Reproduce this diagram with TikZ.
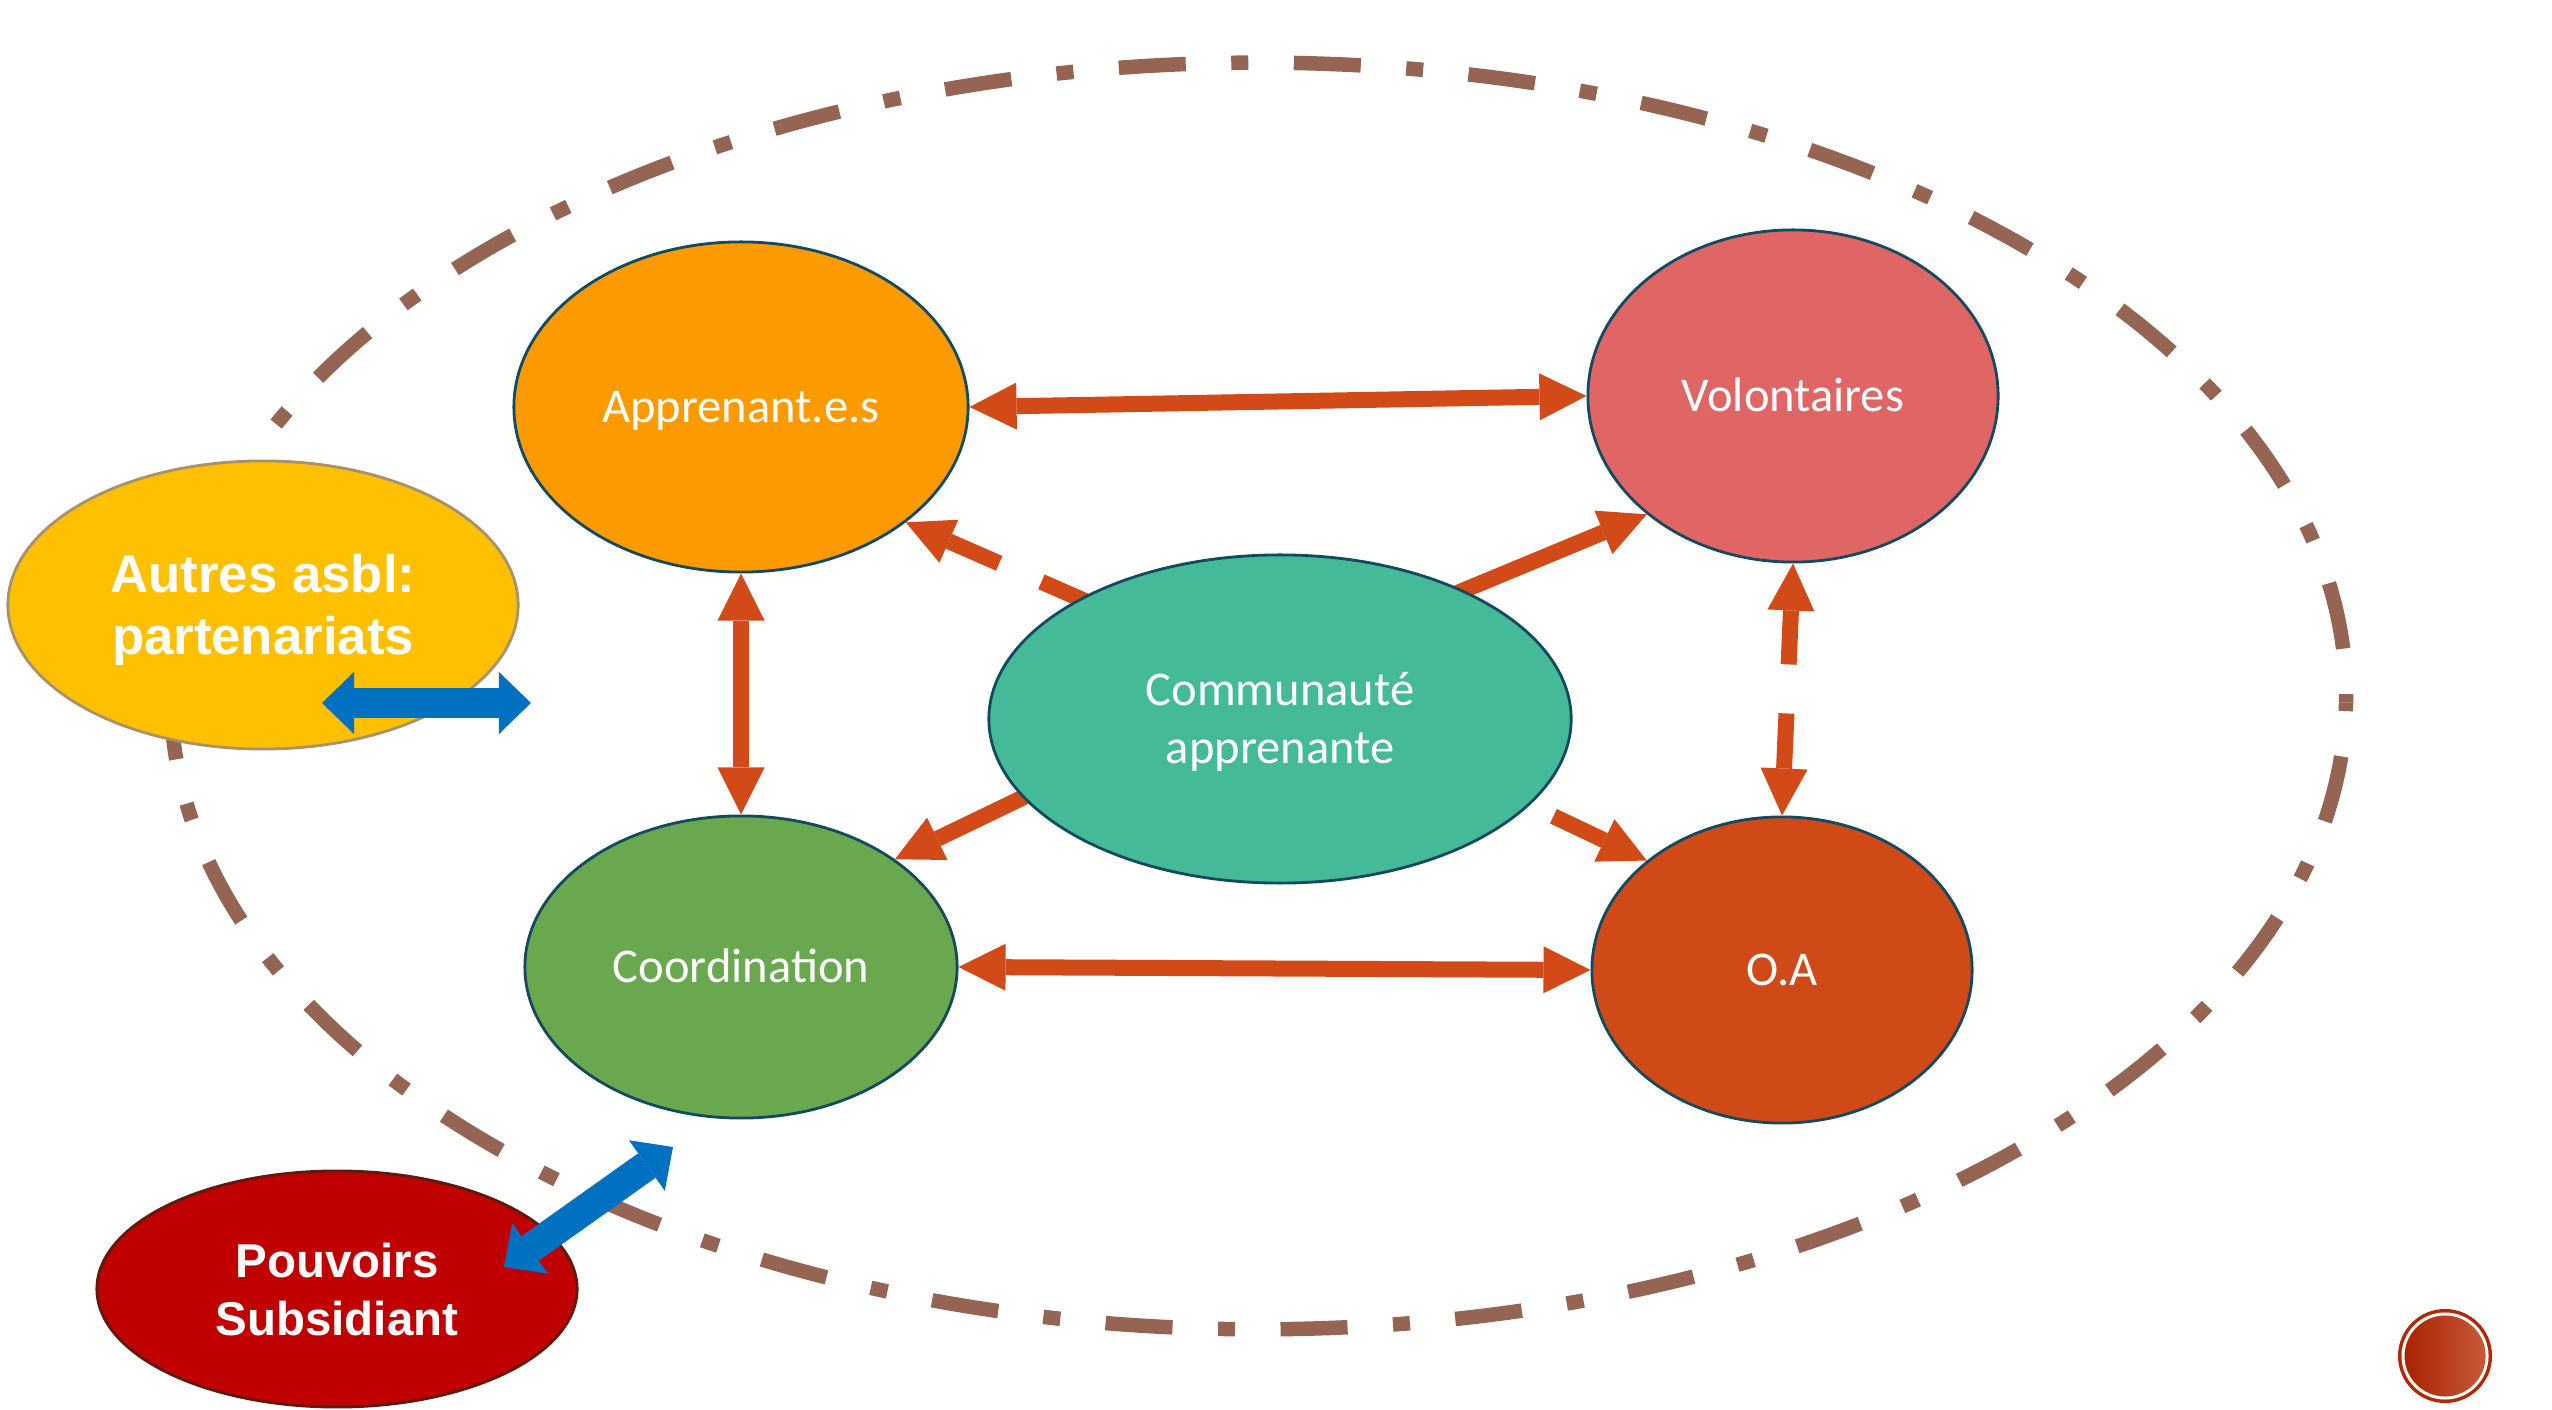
\documentclass[tikz,border=0pt]{standalone}
\usepackage{fontspec}
\setmainfont{Carlito}
\newfontfamily\arialfont{Liberation Sans}
\usetikzlibrary{arrows.meta,shapes.geometric,backgrounds}
\definecolor{appC}{HTML}{FD9A00}
\definecolor{volC}{HTML}{E06666}
\definecolor{comC}{HTML}{44BA98}
\definecolor{coordC}{HTML}{6AA84F}
\definecolor{oaC}{HTML}{D04A18}
\definecolor{edgeC}{HTML}{134A60}
\definecolor{arrC}{HTML}{D24A18}
\definecolor{brownC}{HTML}{956452}
\definecolor{autC}{HTML}{FFC000}
\definecolor{autE}{HTML}{A8926E}
\definecolor{pouC}{HTML}{C00000}
\definecolor{pouE}{HTML}{5E1A0C}
\definecolor{blueC}{HTML}{0070C0}
\definecolor{logoC}{HTML}{B02A08}
\definecolor{logoL}{HTML}{A92300}
\definecolor{logoR}{HTML}{C85A3A}
\tikzset{
  bub/.style={ellipse, draw=edgeC, line width=0.8pt, inner sep=0pt, text=white,
    font=\fontsize{13.8}{16.4}\selectfont, align=center,
    text height=8.9pt, text depth=0pt},
  outer/.style={ellipse, line width=0.8pt, inner sep=0pt, text=white, align=center,
    text depth=0pt},
  con/.style={draw=arrC, line width=0.16cm,
    >={Triangle[length=0.47cm, width=0.47cm, line width=0pt]}},
  blu/.style={draw=blueC, line width=0.30cm,
    >={Triangle[length=0.32cm, width=0.62cm, line width=0pt]}},
  ring/.style={draw=brownC, line width=0.145cm,
    dash pattern=on 0.17cm off 0.455cm on 0.67cm off 0.455cm, dash phase=0.085cm}
}
\begin{document}
\begin{tikzpicture}[x=0.01cm, y=-0.01cm]
\path[use as bounding box] (0,0) rectangle (2552,1410);

% nodes
\node[bub, fill=appC, minimum width=4.54cm, minimum height=3.30cm] (app) at (741,407) {Apprenant.e.s};
\node[bub, fill=volC, minimum width=4.10cm, minimum height=3.32cm] (vol) at (1793,396) {Volontaires};
\node[bub, fill=comC, minimum width=5.82cm, minimum height=3.28cm, text height=25.3pt] (comm) at (1280,719) {Communauté\\apprenante};
\node[bub, fill=coordC, minimum width=4.32cm, minimum height=3.02cm] (coord) at (741,967) {Coordination};
\node[bub, fill=oaC, minimum width=3.80cm, minimum height=3.06cm] (oa) at (1782,970) {O.A};
\node[outer, fill=autC, draw=autE, minimum width=5.10cm, minimum height=2.88cm, text height=28.3pt,
  font=\arialfont\bfseries\fontsize{15}{17.6}\selectfont] (aut) at (263,605) {Autres asbl:\\partenariats};
\node[outer, fill=pouC, draw=pouE, minimum width=4.80cm, minimum height=2.36cm, text height=26.2pt,
  font=\arialfont\bfseries\fontsize{13.5}{16.5}\selectfont] (pou) at (337,1289) {Pouvoirs\\Subsidiant};

% background: white page, dash-dot ring, orange connectors
\begin{pgfonlayer}{background}
  \fill[white] (0,0) rectangle (2552,1410);
  \coordinate (ringR) at (2346,702.6);
  \draw[ring] (ringR) arc[start angle=-0.6, end angle=157, x radius=10.87cm, y radius=6.33cm];
  \draw[ring] (ringR) arc[start angle=-0.6, end angle=-180, x radius=10.87cm, y radius=6.33cm];
  \draw[con, <->] (app.east) -- (vol.west);
  \draw[con, <->] (coord.east) -- (oa.west);
  \draw[con, <->] (app.south) -- (coord.north);
  \draw[con, <->, dash pattern=on 0.54cm off 0.49cm on 5cm off 0.1cm] (vol.south) -- (oa.north);
  \draw[con, <-, shorten >=-0.15cm, dash pattern=on 0.55cm off 0.46cm on 5cm off 0.1cm] (app.-35.6) -- (comm.149);
  \draw[con, ->, shorten <=-0.15cm] (comm.35) -- (vol.219);
  \draw[con, ->, shorten <=0.26cm] (comm.-19.5) -- (oa.141);
  \draw[con, ->, shorten <=-0.15cm] (comm.197.5) -- (coord.35);
\end{pgfonlayer}

% blue double arrows
\coordinate (b1a) at (322,703);
\coordinate (b1b) at (531,703);
\draw[blu, <->] (b1a) -- (b1b);
\coordinate (b2a) at (504,1267);
\coordinate (b2b) at (673,1147);
\draw[blu, <->] (b2a) -- (b2b);

% small logo circle
\node[circle, fill=logoC, minimum size=0.94cm, inner sep=0pt] (logo) at (2445,1356) {};
\shade[left color=logoL, right color=logoR] (logo.center) circle [radius=0.40cm];
\draw[white, line width=0.03cm] (logo.center) circle [radius=0.42cm];
\end{tikzpicture}
\end{document}
